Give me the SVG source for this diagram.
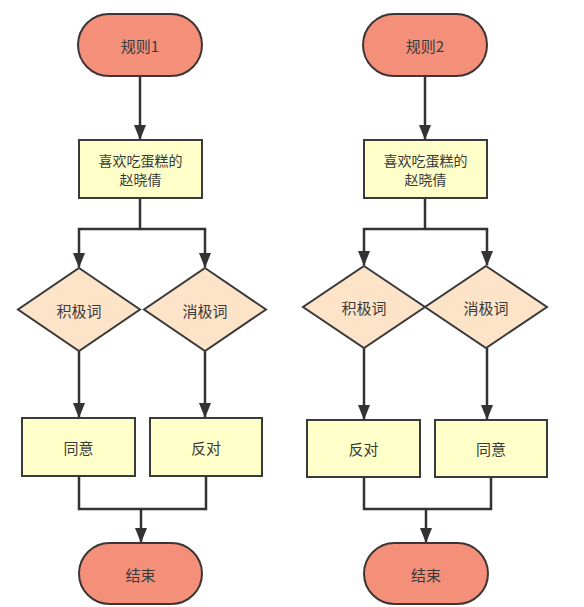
<svg xmlns="http://www.w3.org/2000/svg" width="584" height="607" viewBox="0 0 584 607">
<style>
.term{fill:#F4907A;stroke:#3d3535;stroke-width:2}
.box{fill:#FFFFC9;stroke:#3a3a3a;stroke-width:2}
.dia{fill:#FDE3C8;stroke:#3a3a3a;stroke-width:2}
.t{font-family:"Noto Sans CJK SC","Liberation Sans",sans-serif;font-size:15px;fill:#3a3a3a;text-anchor:middle;dominant-baseline:central}
.t2{font-size:14px}
.c{fill:none;stroke:#333;stroke-width:2.5}
</style>
<defs>
<marker id="ah" viewBox="0 0 15 12" refX="14" refY="6" markerWidth="15" markerHeight="12" orient="auto" markerUnits="userSpaceOnUse">
<path d="M0,0 L15,6 L0,12 z" fill="#333"/>
</marker>
</defs>
<rect width="584" height="607" fill="#ffffff"/>
<g id="connectors">
<path class="c" d="M140,76 V139" marker-end="url(#ah)"/>
<path class="c" d="M140,198 V229 H79 V267" marker-end="url(#ah)"/>
<path class="c" d="M140,229 H205 V267" marker-end="url(#ah)"/>
<path class="c" d="M79,351 V417" marker-end="url(#ah)"/>
<path class="c" d="M205,351 V417" marker-end="url(#ah)"/>
<path class="c" d="M79,476 V509 H206 V476"/>
<path class="c" d="M141,509 V542" marker-end="url(#ah)"/>
<path class="c" d="M425,76 V139" marker-end="url(#ah)"/>
<path class="c" d="M425,198 V229 H364 V265" marker-end="url(#ah)"/>
<path class="c" d="M425,229 H487 V265" marker-end="url(#ah)"/>
<path class="c" d="M364,348 V419" marker-end="url(#ah)"/>
<path class="c" d="M487,348 V419" marker-end="url(#ah)"/>
<path class="c" d="M364,477 V509 H491 V477"/>
<path class="c" d="M426,509 V542" marker-end="url(#ah)"/>
</g>
<g id="start1"><rect class="term" x="78" y="14" width="124" height="62" rx="31"/><text class="t" x="140" y="45">规则1</text></g>
<g id="proc1"><rect class="box" x="79" y="140" width="123" height="58"/><text class="t t2" x="140.5" y="159.5">喜欢吃蛋糕的</text><text class="t t2" x="140.5" y="178.5">赵晓倩</text></g>
<g id="pos1"><polygon class="dia" points="79,268 140,309.5 79,351 18,309.5"/><text class="t" x="79" y="310">积极词</text></g>
<g id="neg1"><polygon class="dia" points="205,268 266,309.5 205,351 144,309.5"/><text class="t" x="205" y="310">消极词</text></g>
<g id="agree1"><rect class="box" x="22" y="418" width="113" height="58"/><text class="t" x="78.5" y="447">同意</text></g>
<g id="oppose1"><rect class="box" x="150" y="418" width="112" height="58"/><text class="t" x="206" y="447">反对</text></g>
<g id="end1"><rect class="term" x="79" y="543" width="123" height="61" rx="30.5"/><text class="t" x="140.5" y="574">结束</text></g>
<g id="start2"><rect class="term" x="363" y="14" width="124" height="62" rx="31"/><text class="t" x="425" y="45">规则2</text></g>
<g id="proc2"><rect class="box" x="364" y="140" width="123" height="58"/><text class="t t2" x="425.5" y="159.5">喜欢吃蛋糕的</text><text class="t t2" x="425.5" y="178.5">赵晓倩</text></g>
<g id="pos2"><polygon class="dia" points="364,266 425,307 364,348 303,307"/><text class="t" x="364" y="307">积极词</text></g>
<g id="neg2"><polygon class="dia" points="486,266 547,307 486,348 425,307"/><text class="t" x="486" y="307">消极词</text></g>
<g id="oppose2"><rect class="box" x="307" y="420" width="113" height="57"/><text class="t" x="363.5" y="448">反对</text></g>
<g id="agree2"><rect class="box" x="435" y="420" width="112" height="57"/><text class="t" x="491" y="448">同意</text></g>
<g id="end2"><rect class="term" x="364" y="543" width="124" height="61" rx="30.5"/><text class="t" x="426" y="574">结束</text></g>
</svg>
